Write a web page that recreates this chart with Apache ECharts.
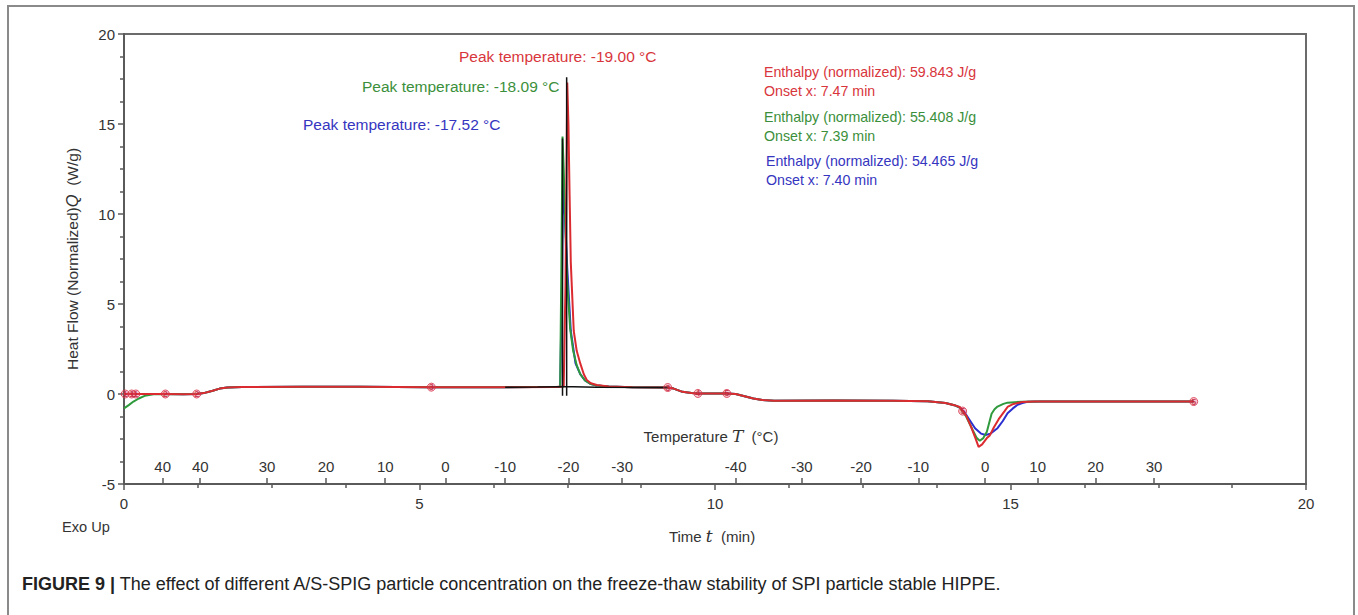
<!DOCTYPE html>
<html>
<head>
<meta charset="utf-8">
<script src="https://cdn.jsdelivr.net/npm/echarts@6/dist/echarts.min.js"></script>
<style>
html,body{margin:0;padding:0;background:#fff;}
#chart{width:1358px;height:615px;}
</style>
</head>
<body>
<div id="chart"></div>
<script>
// ---- Data (time in min, heat flow in W/g) ----
const redCurve = [[0,0],[0.2,0],[0.7,0],[1.0,-0.02],[1.23,0],[1.35,0.05],[1.5,0.18],[1.62,0.3],[1.75,0.36],[2.0,0.39],[3.0,0.4],[4.0,0.4],[5.2,0.38],[6.45,0.38],[7.3,0.39],[7.44,0.42],[7.47,6],[7.5,17.3],[7.52,15],[7.54,11],[7.56,7.3],[7.61,3.5],[7.66,2.4],[7.72,1.7],[7.78,1.1],[7.83,0.78],[7.9,0.6],[8.0,0.5],[8.2,0.42],[8.6,0.38],[9.2,0.36],[9.3,0.3],[9.45,0.12],[9.6,0.05],[9.71,0.03],[10.2,0.03],[10.35,0],[10.5,-0.12],[10.65,-0.25],[10.8,-0.33],[11.0,-0.37],[12.0,-0.36],[13.0,-0.38],[13.6,-0.4],[13.9,-0.5],[14.05,-0.62],[14.14,-0.72],[14.25,-1.2],[14.33,-1.8],[14.4,-2.4],[14.46,-2.94],[14.52,-2.8],[14.6,-2.45],[14.65,-2.3],[14.72,-1.85],[14.8,-1.4],[14.9,-0.95],[14.95,-0.72],[15.05,-0.55],[15.2,-0.45],[15.4,-0.42],[16.0,-0.42],[17.0,-0.42],[18.1,-0.42]];
const greenCurve = [[0,-0.8],[0.08,-0.62],[0.16,-0.42],[0.25,-0.25],[0.35,-0.1],[0.5,-0.02],[0.7,0],[1.0,-0.02],[1.23,0],[1.35,0.05],[1.5,0.18],[1.62,0.3],[1.75,0.36],[2.0,0.39],[3.0,0.4],[4.0,0.4],[5.2,0.38],[6.45,0.38],[7.36,0.4],[7.38,0.42],[7.40,7],[7.42,14.3],[7.44,12.5],[7.47,9],[7.5,6.2],[7.55,3.6],[7.6,2.4],[7.66,1.6],[7.72,1.1],[7.8,0.75],[7.9,0.55],[8.0,0.47],[8.2,0.41],[8.6,0.38],[9.2,0.36],[9.3,0.3],[9.45,0.12],[9.6,0.05],[9.71,0.03],[10.2,0.03],[10.35,0],[10.5,-0.12],[10.65,-0.25],[10.8,-0.33],[11.0,-0.37],[12.0,-0.36],[13.0,-0.38],[13.6,-0.4],[13.9,-0.5],[14.05,-0.62],[14.14,-0.75],[14.25,-1.25],[14.36,-2.0],[14.43,-2.45],[14.48,-2.6],[14.54,-2.45],[14.6,-2.1],[14.64,-1.6],[14.68,-1.1],[14.73,-0.85],[14.78,-0.7],[14.88,-0.55],[14.95,-0.48],[15.2,-0.43],[15.5,-0.42],[18.1,-0.42]];
const blueCurve = [[0,0],[0.2,0],[0.7,0],[1.0,-0.02],[1.23,0],[1.35,0.05],[1.5,0.18],[1.62,0.3],[1.75,0.36],[2.0,0.39],[3.0,0.4],[4.0,0.4],[5.2,0.38],[6.45,0.38],[7.36,0.4],[7.38,0.42],[7.41,6],[7.43,11.8],[7.46,10],[7.5,7],[7.56,3.5],[7.64,1.7],[7.72,1.1],[7.8,0.75],[7.9,0.55],[8.0,0.47],[8.2,0.41],[8.6,0.38],[9.2,0.36],[9.3,0.3],[9.45,0.12],[9.6,0.05],[9.71,0.03],[10.2,0.03],[10.35,0],[10.5,-0.12],[10.65,-0.25],[10.8,-0.33],[11.0,-0.37],[12.0,-0.36],[13.0,-0.38],[13.6,-0.4],[13.9,-0.5],[14.05,-0.62],[14.14,-0.75],[14.22,-1.0],[14.3,-1.4],[14.4,-1.9],[14.5,-2.2],[14.58,-2.28],[14.66,-2.2],[14.78,-1.9],[14.87,-1.5],[14.95,-1.07],[15.04,-0.8],[15.12,-0.6],[15.2,-0.5],[15.29,-0.43],[15.5,-0.42],[18.1,-0.42]];
const blackBaseline = [[6.45,0.38],[7.0,0.39],[7.38,0.40],[7.6,0.40],[8.0,0.38],[9.2,0.36]];
const blackPeakA = [[7.42,-0.1],[7.42,14.2]];
const blackPeakB = [[7.49,-0.1],[7.49,17.6]];
const segmentMarkers = [[0.02,0,'1'],[0.13,0,'1'],[0.2,0,'1'],[0.7,0,'2'],[1.23,0,'2'],[5.2,0.38,'3'],[9.2,0.36,'3'],[9.71,0.03,'4'],[10.2,0.03,'5'],[14.19,-0.95,'5'],[18.1,-0.42,'5']];
// secondary temperature axis (°C) ticks located on time axis
const tempTickTimes  = [0.655,1.29,2.42,3.42,4.42,5.44,6.45,7.52,8.43,10.35,11.47,12.47,13.44,14.57,15.46,16.44,17.43];
const tempTickLabels = ['40','40','30','20','10','0','-10','-20','-30','-40','-30','-20','-10','0','10','20','30'];
const yTicks = {min:-5, max:20, interval:5};
const xTicks = {min:0, max:20, interval:5};

const RED='#db2b30', GREEN='#2e9a3c', BLUE='#2b2fd0', BLACK='#111';
const FONT='Liberation Sans, Arial, sans-serif';

const chart = echarts.init(document.getElementById('chart'), null, {renderer:'svg'});
const option = {
  animation:false,
  backgroundColor:'#fff',
  grid:{left:124, top:34, right:52, bottom:131, containLabel:false, outerBoundsMode:'none',
        show:true, borderColor:'#6b6b6b', borderWidth:2, backgroundColor:'transparent'},
  xAxis:[{
    type:'value', min:xTicks.min, max:xTicks.max, interval:xTicks.interval, position:'bottom',
    axisLine:{show:true, onZero:false, lineStyle:{color:'#5a5a5a', width:2}},
    axisTick:{show:true, inside:false, length:6, lineStyle:{color:'#5a5a5a', width:1.5}},
    minorTick:{show:true, splitNumber:4, length:4, lineStyle:{color:'#5a5a5a', width:1.5}},
    splitLine:{show:false},
    axisLabel:{margin:12, color:'#333', fontSize:15, fontFamily:FONT}
  },{
    type:'value', min:xTicks.min, max:xTicks.max, position:'bottom', gridIndex:0,
    axisLine:{show:false, onZero:false},
    axisTick:{show:true, inside:true, length:6, customValues:tempTickTimes, lineStyle:{color:'#5a5a5a', width:1.5}},
    splitLine:{show:false},
    axisLabel:{inside:true, margin:10, color:'#333', fontSize:15, fontFamily:FONT, customValues:tempTickTimes,
      formatter:function(v){ let best=0, d=1e9; tempTickTimes.forEach((t,i)=>{ if(Math.abs(t-v)<d){d=Math.abs(t-v);best=i;} }); return tempTickLabels[best]; }}
  }],
  yAxis:{
    type:'value', min:yTicks.min, max:yTicks.max, interval:yTicks.interval,
    axisLine:{show:true, onZero:false, lineStyle:{color:'#5a5a5a', width:2}},
    axisTick:{show:true, length:6, lineStyle:{color:'#5a5a5a', width:1.5}},
    minorTick:{show:true, splitNumber:4, length:4, lineStyle:{color:'#5a5a5a', width:1.5}},
    splitLine:{show:false},
    axisLabel:{margin:9, color:'#333', fontSize:15, fontFamily:FONT}
  },
  series:[
    {name:'Blue', type:'line', data:blueCurve, showSymbol:false, lineStyle:{color:BLUE, width:2}, z:2},
    {name:'Green', type:'line', data:greenCurve, showSymbol:false, lineStyle:{color:GREEN, width:2}, z:3},
    {name:'Red', type:'line', data:redCurve, showSymbol:false, lineStyle:{color:RED, width:2}, z:4},
    {name:'Black', type:'line', data:blackBaseline, showSymbol:false, lineStyle:{color:BLACK, width:1.5}, z:5},
    {name:'PeakA', type:'line', data:blackPeakA, showSymbol:false, lineStyle:{color:BLACK, width:1.5}, z:5},
    {name:'PeakB', type:'line', data:blackPeakB, showSymbol:false, lineStyle:{color:BLACK, width:1.5}, z:5},
    {name:'Markers', type:'scatter', data:segmentMarkers, symbol:'circle', symbolSize:8, z:6,
      itemStyle:{color:'rgba(225,70,95,0.35)', borderColor:'#d8304a', borderWidth:1},
      label:{show:true, position:'inside', formatter:p=>p.value[2], color:'#c0203a', fontSize:9, fontWeight:'bold', fontFamily:FONT}}
  ],
  graphic:[
    {type:'rect', shape:{x:8, y:6, width:1346, height:640}, style:{fill:'none', stroke:'#8a8a8a', lineWidth:2}, silent:true},
    {type:'text', x:459, y:56, style:{text:'Peak temperature: -19.00 °C', fill:'#d8363c', font:'15.5px '+FONT, verticalAlign:'middle'}},
    {type:'text', x:362, y:86, style:{text:'Peak temperature: -18.09 °C', fill:'#3b8f3b', font:'15.5px '+FONT, verticalAlign:'middle'}},
    {type:'text', x:303, y:124, style:{text:'Peak temperature: -17.52 °C', fill:'#3535c0', font:'15.5px '+FONT, verticalAlign:'middle'}},
    {type:'text', x:764, y:72, style:{text:'Enthalpy (normalized): 59.843 J/g', fill:'#d8363c', font:'14.2px '+FONT, verticalAlign:'middle'}},
    {type:'text', x:764, y:91, style:{text:'Onset x: 7.47 min', fill:'#d8363c', font:'14.2px '+FONT, verticalAlign:'middle'}},
    {type:'text', x:764, y:117, style:{text:'Enthalpy (normalized): 55.408 J/g', fill:'#3b8f3b', font:'14.2px '+FONT, verticalAlign:'middle'}},
    {type:'text', x:764, y:136, style:{text:'Onset x: 7.39 min', fill:'#3b8f3b', font:'14.2px '+FONT, verticalAlign:'middle'}},
    {type:'text', x:766, y:161, style:{text:'Enthalpy (normalized): 54.465 J/g', fill:'#3535c0', font:'14.2px '+FONT, verticalAlign:'middle'}},
    {type:'text', x:766, y:180, style:{text:'Onset x: 7.40 min', fill:'#3535c0', font:'14.2px '+FONT, verticalAlign:'middle'}},
    {type:'text', x:711, y:436, style:{text:'Temperature {i|T}  (°C)', fill:'#333', font:'15px '+FONT, align:'center', verticalAlign:'middle',
      rich:{i:{fontStyle:'italic', fontSize:17, fontFamily:'DejaVu Serif, serif', fill:'#333'}}}},
    {type:'text', x:712, y:536, style:{text:'Time {i|t}  (min)', fill:'#333', font:'15px '+FONT, align:'center', verticalAlign:'middle',
      rich:{i:{fontStyle:'italic', fontSize:17, fontFamily:'DejaVu Serif, serif', fill:'#333'}}}},
    {type:'text', x:62, y:527, style:{text:'Exo Up', fill:'#333', font:'14.6px '+FONT, verticalAlign:'middle'}},
    {type:'text', x:72, y:259, rotation:Math.PI/2, style:{text:'Heat Flow (Normalized){i|Q}  (W/g)', fill:'#333', font:'15.5px '+FONT, align:'center', verticalAlign:'middle',
      rich:{i:{fontStyle:'italic', fontSize:16.5, fontFamily:FONT, fill:'#333'}}}},
    {type:'text', x:22, y:584, style:{text:'{b|FIGURE 9 |} The effect of different A/S-SPIG particle concentration on the freeze-thaw stability of SPI particle stable HIPPE.',
      fill:'#222', font:'18px '+FONT, verticalAlign:'middle', rich:{b:{fontWeight:'bold', fontSize:18, fontFamily:FONT, fill:'#222'}}}}
  ]
};
chart.setOption(option);
</script>
</body>
</html>
